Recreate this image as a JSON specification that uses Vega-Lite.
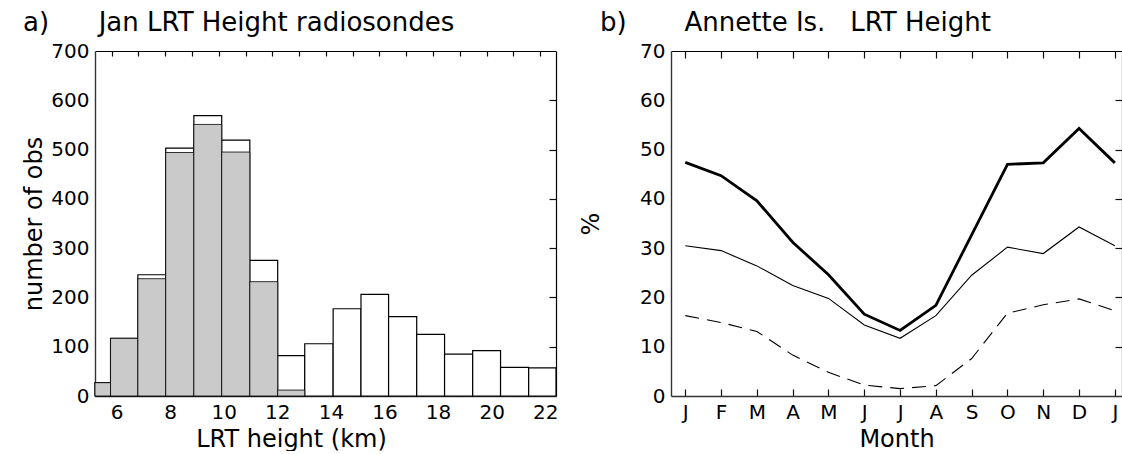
{
  "$schema": "https://vega.github.io/schema/vega-lite/v6.json",
  "background": "white",
  "padding": {"left": 22, "top": 10, "right": 0, "bottom": 0},
  "bounds": "flush",
  "spacing": 115,
  "config": {
    "font": "DejaVu Sans",
    "view": {"stroke": null},
    "axis": {
      "labelFont": "DejaVu Sans", "labelFontSize": 20, "labelColor": "black",
      "titleFont": "DejaVu Sans", "titleFontSize": 24, "titleFontWeight": "normal", "titleColor": "black",
      "domainColor": "#333", "domainWidth": 1.4, "tickColor": "#111", "tickWidth": 1.2, "grid": false, "labelFlush": false, "labelOverlap": false,
      "minExtent": 0
    },
    "title": {"font": "DejaVu Sans", "fontSize": 26, "fontWeight": "normal", "color": "black"}
  },
  "hconcat": [
    {
      "width": 461, "height": 345,
      "title": {"text": "a)\u00a0\u00a0\u00a0\u00a0\u00a0\u00a0Jan LRT Height radiosondes", "anchor": "start", "frame": "group", "dx": -72, "offset": -16, "baseline": "alphabetic"},
      "data": {"values": [
        {"x0": 5.38, "x1": 5.96, "total": 27, "stip": 27},
        {"x0": 5.96, "x1": 6.98, "total": 117, "stip": 117},
        {"x0": 6.98, "x1": 8.02, "total": 246, "stip": 238},
        {"x0": 8.02, "x1": 9.07, "total": 503, "stip": 494},
        {"x0": 9.07, "x1": 10.11, "total": 569, "stip": 551},
        {"x0": 10.11, "x1": 11.16, "total": 519, "stip": 495},
        {"x0": 11.16, "x1": 12.2, "total": 275, "stip": 232},
        {"x0": 12.2, "x1": 13.21, "total": 82, "stip": 12},
        {"x0": 13.21, "x1": 14.27, "total": 106, "stip": 0},
        {"x0": 14.27, "x1": 15.31, "total": 177, "stip": 0},
        {"x0": 15.31, "x1": 16.34, "total": 206, "stip": 0},
        {"x0": 16.34, "x1": 17.39, "total": 161, "stip": 0},
        {"x0": 17.39, "x1": 18.43, "total": 125, "stip": 0},
        {"x0": 18.43, "x1": 19.48, "total": 85, "stip": 0},
        {"x0": 19.48, "x1": 20.52, "total": 92, "stip": 0},
        {"x0": 20.52, "x1": 21.57, "total": 58, "stip": 0},
        {"x0": 21.57, "x1": 22.59, "total": 57, "stip": 0}
      ]},
      "resolve": {"axis": {"x": "independent", "y": "independent"}},
      "layer": [
        {
          "mark": {"type": "bar", "fill": "white", "stroke": "black", "strokeWidth": 1.2},
          "encoding": {
            "x": {"field": "x0", "type": "quantitative", "scale": {"domain": [5.38, 22.59], "nice": false, "zero": false},
                  "axis": {"orient": "bottom", "values": [6, 8, 10, 12, 14, 16, 18, 20, 22], "tickSize": -7, "labelPadding": 13, "labelOffset": 5, "title": "LRT height (km)", "titlePadding": 5, "titleX": 196}},
            "x2": {"field": "x1"},
            "y": {"field": "total", "type": "quantitative", "scale": {"domain": [0, 700], "nice": false},
                  "axis": {"orient": "left", "values": [0, 100, 200, 300, 400, 500, 600, 700], "ticks": false, "labelPadding": 6, "title": "number of obs", "titlePadding": 4}},
            "y2": {"datum": 0}
          }
        },
        {
          "transform": [{"filter": "datum.stip > 0"}],
          "mark": {"type": "bar", "fill": "#cacaca", "stroke": "black", "strokeWidth": 0.8},
          "encoding": {
            "x": {"field": "x0", "type": "quantitative", "axis": {"orient": "top", "values": [6, 7, 8, 9, 10, 11, 12, 13, 14, 15, 16, 17, 18, 19, 20, 21, 22], "tickSize": -5, "labels": false, "title": null, "domainColor": "black", "domainWidth": 1.2}},
            "x2": {"field": "x1"},
            "y": {"field": "stip", "type": "quantitative", "axis": {"orient": "right", "values": [100, 200, 300, 400, 500, 600], "tickSize": -7, "labels": false, "title": null, "domainColor": "black", "domainWidth": 1.2}},
            "y2": {"datum": 0}
          }
        },
        {
          "mark": {"type": "bar", "opacity": 0},
          "encoding": {
            "x": {"field": "x0", "type": "quantitative", "axis": {"orient": "bottom", "values": [7, 9, 11, 13, 15, 17, 19, 21], "tickSize": -4, "labels": false, "domain": false, "title": null}},
            "x2": {"field": "x1"},
            "y": {"field": "total", "type": "quantitative", "axis": null},
            "y2": {"datum": 0}
          }
        }
      ]
    },
    {
      "width": 451, "height": 345,
      "title": {"text": "b)\u00a0\u00a0\u00a0\u00a0\u00a0\u00a0\u00a0Annette Is.\u00a0\u00a0\u00a0LRT Height", "anchor": "start", "frame": "group", "dx": -71, "offset": -16, "baseline": "alphabetic"},
      "data": {"values": [
        {"m": 0, "series": "A", "pct": 47.4}, {"m": 1, "series": "A", "pct": 44.7}, {"m": 2, "series": "A", "pct": 39.6},
        {"m": 3, "series": "A", "pct": 31.2}, {"m": 4, "series": "A", "pct": 24.6}, {"m": 5, "series": "A", "pct": 16.6},
        {"m": 6, "series": "A", "pct": 13.3}, {"m": 7, "series": "A", "pct": 18.4}, {"m": 8, "series": "A", "pct": 32.7},
        {"m": 9, "series": "A", "pct": 47.0}, {"m": 10, "series": "A", "pct": 47.3}, {"m": 11, "series": "A", "pct": 54.3},
        {"m": 12, "series": "A", "pct": 47.3},
        {"m": 0, "series": "B", "pct": 30.5}, {"m": 1, "series": "B", "pct": 29.5}, {"m": 2, "series": "B", "pct": 26.4},
        {"m": 3, "series": "B", "pct": 22.4}, {"m": 4, "series": "B", "pct": 19.8}, {"m": 5, "series": "B", "pct": 14.4},
        {"m": 6, "series": "B", "pct": 11.7}, {"m": 7, "series": "B", "pct": 16.3}, {"m": 8, "series": "B", "pct": 24.5},
        {"m": 9, "series": "B", "pct": 30.2}, {"m": 10, "series": "B", "pct": 28.9}, {"m": 11, "series": "B", "pct": 34.3},
        {"m": 12, "series": "B", "pct": 30.5},
        {"m": 0, "series": "C", "pct": 16.3}, {"m": 1, "series": "C", "pct": 14.9}, {"m": 2, "series": "C", "pct": 13.1},
        {"m": 3, "series": "C", "pct": 8.3}, {"m": 4, "series": "C", "pct": 4.8}, {"m": 5, "series": "C", "pct": 2.2},
        {"m": 6, "series": "C", "pct": 1.5}, {"m": 7, "series": "C", "pct": 2.1}, {"m": 8, "series": "C", "pct": 7.6},
        {"m": 9, "series": "C", "pct": 16.8}, {"m": 10, "series": "C", "pct": 18.5}, {"m": 11, "series": "C", "pct": 19.7},
        {"m": 12, "series": "C", "pct": 17.3}
      ]},
      "resolve": {"axis": {"x": "independent", "y": "independent"}},
      "layer": [
        {
          "transform": [{"filter": "datum.series === 'A'"}],
          "mark": {"type": "line", "color": "black", "strokeWidth": 2.8},
          "encoding": {
            "x": {"field": "m", "type": "quantitative", "scale": {"domain": [-0.4, 12.2], "nice": false, "zero": false},
                  "axis": {"orient": "bottom", "values": [0, 1, 2, 3, 4, 5, 6, 7, 8, 9, 10, 11, 12], "tickSize": -7, "labelPadding": 13,
                           "labelExpr": "['J','F','M','A','M','J','J','A','S','O','N','D','J'][datum.value]", "title": "Month", "titlePadding": 5}},
            "y": {"field": "pct", "type": "quantitative", "scale": {"domain": [0, 70], "nice": false},
                  "axis": {"orient": "left", "values": [0, 10, 20, 30, 40, 50, 60, 70], "ticks": false, "labelPadding": 6, "title": "%", "titlePadding": 36}}
          }
        },
        {
          "transform": [{"filter": "datum.series === 'B'"}],
          "mark": {"type": "line", "color": "black", "strokeWidth": 1.1},
          "encoding": {
            "x": {"field": "m", "type": "quantitative", "axis": {"orient": "top", "values": [0, 1, 2, 3, 4, 5, 6, 7, 8, 9, 10, 11, 12], "tickSize": -7, "labels": false, "title": null, "domainColor": "black", "domainWidth": 1.2}},
            "y": {"field": "pct", "type": "quantitative", "axis": {"orient": "right", "values": [10, 20, 30, 40, 50, 60], "tickSize": -7, "labels": false, "title": null, "domainColor": "black", "domainWidth": 1.2}}
          }
        },
        {
          "transform": [{"filter": "datum.series === 'C'"}],
          "mark": {"type": "line", "color": "black", "strokeWidth": 1.1, "strokeDash": [14, 8]},
          "encoding": {
            "x": {"field": "m", "type": "quantitative", "axis": null},
            "y": {"field": "pct", "type": "quantitative", "axis": null}
          }
        }
      ]
    }
  ]
}
